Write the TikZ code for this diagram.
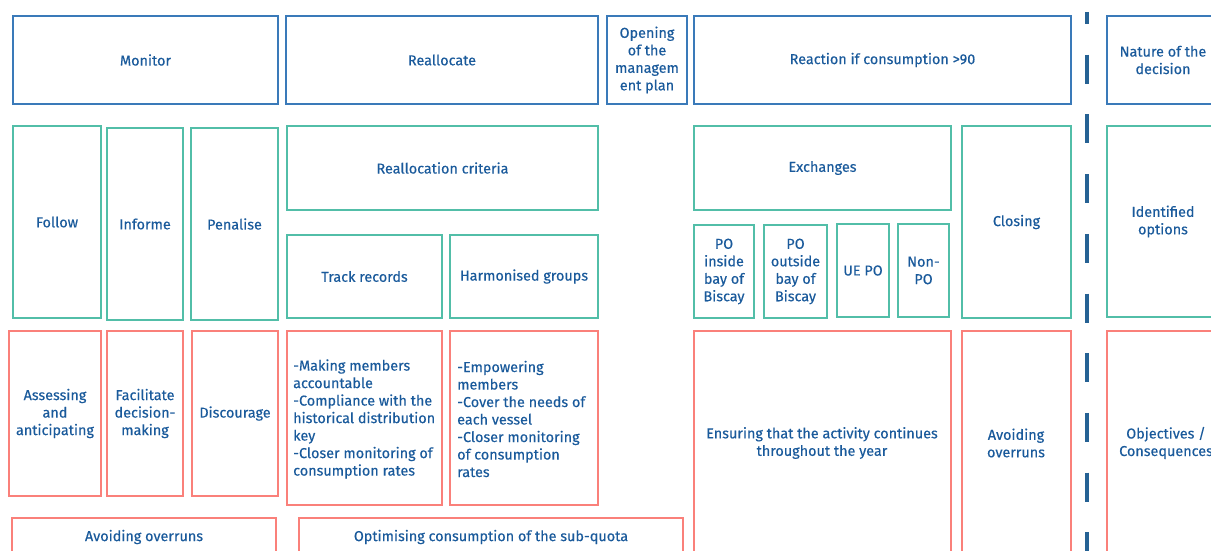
\documentclass[tikz,border=0pt]{standalone}
\usepackage{fontspec}
\setmainfont[FakeBold=0.35,BoldFont={Fira Sans}]{Fira Sans}
\definecolor{txtblue}{RGB}{26,90,155}
\definecolor{bblue}{RGB}{58,122,185}
\definecolor{bteal}{RGB}{82,190,168}
\definecolor{bred}{RGB}{250,128,122}
\definecolor{dashblue}{RGB}{38,98,148}
\tikzset{
  base/.style={inner sep=0pt, line width=1.6pt, text=txtblue, align=center,
    font=\fontsize{14.4}{17.5}\selectfont\bfseries},
  bluebox/.style={base, draw=bblue},
  tealbox/.style={base, draw=bteal},
  redbox/.style={base, draw=bred},
  lefttext/.style={text=txtblue, align=left, inner sep=0pt, anchor=west,
    font=\fontsize{14.4}{17.5}\selectfont\bfseries},
  divider/.style={draw=dashblue, line width=4pt, dash pattern=on 29pt off 30.7pt, dash phase=17pt}
}
\newcommand\bx[7]{\node[#1, minimum width={(#5)-(#3)}, minimum height={(#6)-(#4)}] (#2) at ({((#3)+(#5))/2},{((#4)+(#6))/2}) {#7};}
\begin{document}
\begin{tikzpicture}[x=1pt,y=-1pt]
\useasboundingbox (0,0) rectangle (1211,551);
\clip (0,0) rectangle (1211,551);
% top row
\bx{bluebox}{monitor}{13}{16}{278}{104}{Monitor}
\bx{bluebox}{realloc}{286}{16}{598}{104}{Reallocate}
\bx{bluebox}{opening}{607}{16}{687}{104}{Opening\\of the\\managem\\ent plan}
\bx{bluebox}{reaction}{694}{16}{1071}{104}{Reaction if consumption >90}
\bx{bluebox}{nature}{1107}{16}{1219}{104}{Nature of the\\decision}
% second row
\bx{tealbox}{follow}{13}{126}{101}{318}{Follow}
\bx{tealbox}{informe}{107}{128}{183}{320}{Informe}
\bx{tealbox}{penalise}{191}{128}{278}{320}{Penalise}
\bx{tealbox}{crit}{287}{126}{598}{210}{Reallocation criteria}
\bx{tealbox}{track}{287}{235}{442}{318}{Track records}
\bx{tealbox}{harm}{450}{235}{598}{318}{Harmonised groups}
\bx{tealbox}{exch}{694}{126}{951}{210}{Exchanges}
\bx{tealbox}{poin}{694}{225}{754}{318}{PO\\inside\\bay of\\Biscay}
\bx{tealbox}{poout}{764}{225}{827}{318}{PO\\outside\\bay of\\Biscay}
\bx{tealbox}{uepo}{837}{224}{889}{317}{UE PO}
\bx{tealbox}{nonpo}{898}{224}{949}{317}{Non-\\PO}
\bx{tealbox}{closing}{962}{126}{1071}{318}{Closing}
\bx{tealbox}{ident}{1107}{126}{1219}{317}{Identified\\options}
% third row
\bx{redbox}{assess}{9}{331}{101}{496}{Assessing\\and\\anticipating}
\bx{redbox}{facil}{107}{331}{183}{496}{Facilitate\\decision-\\making}
\bx{redbox}{disc}{192}{331}{278}{496}{Discourage}
\bx{redbox}{making}{287}{331}{442}{505}{}
\node[lefttext] (makingtxt) at (293,419) {-Making members\\accountable\\-Compliance with the\\historical distribution\\key\\-Closer monitoring of\\consumption rates};
\bx{redbox}{empow}{450}{331}{598}{505}{}
\node[lefttext] (empowtxt) at (457,419) {-Empowering\\members\\-Cover the needs of\\each vessel\\-Closer monitoring\\of consumption\\rates};
\bx{redbox}{ensure}{694}{331}{951}{560}{}
\node[base] (ensuretxt) at (822,443) {Ensuring that the activity continues\\throughout the year};
\bx{redbox}{avoidb}{962}{331}{1071}{560}{}
\node[base] (avoidbtxt) at (1016,443) {Avoiding\\overruns};
\bx{redbox}{obj}{1107}{331}{1225}{560}{}
\node[base] (objtxt) at (1166,443) {Objectives /\\Consequences};
% bottom row
\bx{redbox}{avoida}{12}{518}{276}{560}{}
\node[base] (avoidatxt) at (144,537) {Avoiding overruns};
\bx{redbox}{optim}{299}{518}{683}{560}{}
\node[base] (optimtxt) at (491,537) {Optimising consumption of the sub-quota};
% divider
\coordinate (dtop) at (1087,12);
\coordinate (dbot) at (1087,560);
\draw[divider] (dtop) -- (dbot);
\end{tikzpicture}
\end{document}
